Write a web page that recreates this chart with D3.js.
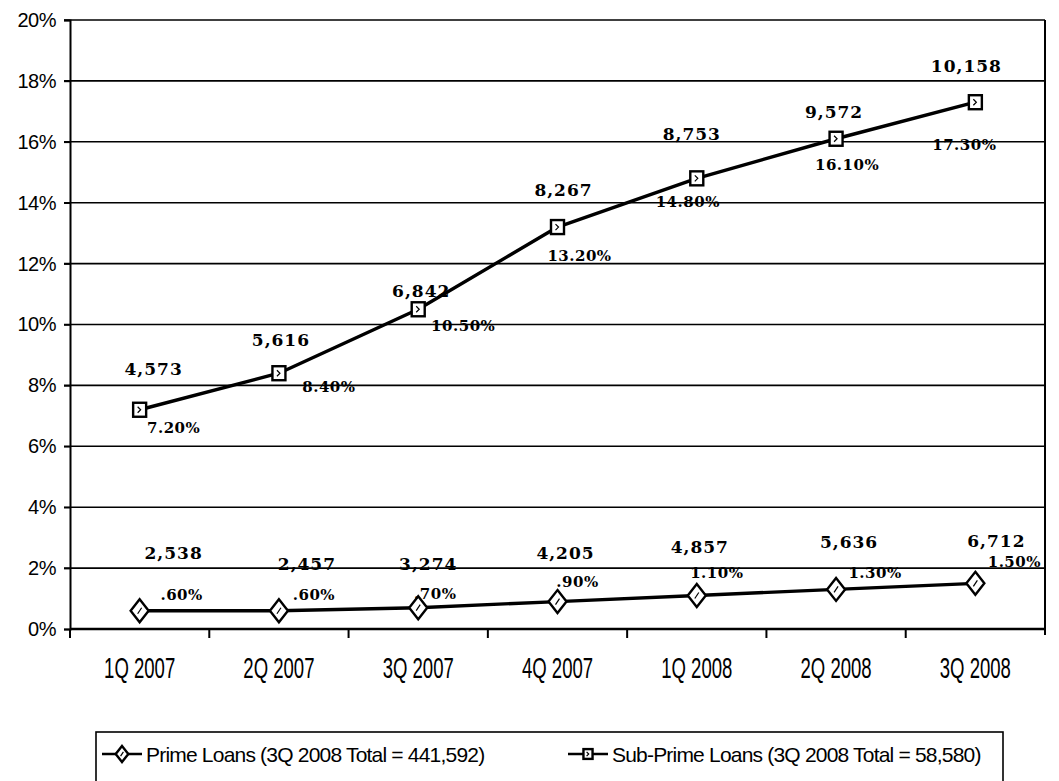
<!DOCTYPE html>
<html>
<head>
<meta charset="utf-8">
<script src="https://cdn.jsdelivr.net/npm/d3@7"></script>
<style>
  body { margin: 0; background: #fff; }
  svg { display: block; }
</style>
</head>
<body>
<div id="chart"></div>
<script>
// Data
const quarters = ['1Q 2007', '2Q 2007', '3Q 2007', '4Q 2007', '1Q 2008', '2Q 2008', '3Q 2008'];
const primeRate = [0.6, 0.6, 0.7, 0.9, 1.1, 1.3, 1.5];
const subprimeRate = [7.2, 8.4, 10.5, 13.2, 14.8, 16.1, 17.3];
const primeCount = [2538, 2457, 3274, 4205, 4857, 5636, 6712];
const subprimeCount = [4573, 5616, 6842, 8267, 8753, 9572, 10158];
const yTicks = [0, 2, 4, 6, 8, 10, 12, 14, 16, 18, 20];
const legendLabels = ['Prime Loans (3Q 2008 Total = 441,592)', 'Sub-Prime Loans (3Q 2008 Total = 58,580)'];

// Label nudges (px from the point), the way they were hand-placed in the original
const subCountNudge = [[14, -41], [2, -33], [3, -18], [6, -37], [-5, -44], [-2, -27], [-9, -36]];
const subPctNudge = [[34, 18], [50, 13], [45, 16], [22, 29], [-9, 23], [11, 26], [-11, 42]];
const primeCountNudge = [[34, -58], [28, -47], [10, -44], [8, -49], [3, -49], [13, -48], [21, -42]];
const primePctNudge = [[42, -16], [35, -16], [17, -14], [20, -20], [20, -23], [39, -17], [39, -22]];

const W = 1059, H = 781;
const plot = { left: 70, right: 1045, top: 20, bottom: 629 };

const svg = d3.select('#chart').append('svg').attr('width', W).attr('height', H);

const x = d3.scaleBand().domain(quarters).range([plot.left, plot.right]);
const y = d3.scaleLinear().domain([0, 20]).range([plot.bottom, plot.top]);
const cx = q => x(q) + x.bandwidth() / 2;

const sans = 'Liberation Sans, Arial, sans-serif';
const serif = 'DejaVu Serif, serif';

// Horizontal gridlines (20% line doubles as top border)
svg.append('g')
  .selectAll('line').data(yTicks.filter(d => d > 0)).join('line')
  .attr('x1', plot.left - 6).attr('x2', plot.right)
  .attr('y1', d => y(d)).attr('y2', d => y(d))
  .attr('stroke', '#000').attr('stroke-width', 1.6);

// Y axis
svg.append('g').attr('transform', `translate(${plot.left},0)`)
  .call(d3.axisLeft(y).tickValues(yTicks).tickSize(6).tickPadding(8).tickFormat(d => d + '%'))
  .call(g => g.select('.domain').attr('stroke', '#000').attr('stroke-width', 2))
  .call(g => g.selectAll('.tick line').attr('stroke', '#000').attr('stroke-width', 1.6))
  .call(g => g.selectAll('.tick text').attr('fill', '#000').attr('font-family', sans)
    .attr('font-size', '20px').attr('letter-spacing', '-0.5px'));

// Right border
svg.append('line')
  .attr('x1', plot.right).attr('x2', plot.right)
  .attr('y1', plot.top).attr('y2', plot.bottom + 6)
  .attr('stroke', '#000').attr('stroke-width', 2);

// X axis: ticks at category boundaries
const xAxis = svg.append('g');
xAxis.append('line')
  .attr('x1', plot.left).attr('x2', plot.right)
  .attr('y1', plot.bottom).attr('y2', plot.bottom)
  .attr('stroke', '#000').attr('stroke-width', 2.5);
xAxis.selectAll('.xtick').data(quarters).join('line').attr('class', 'xtick')
  .attr('x1', d => x(d)).attr('x2', d => x(d))
  .attr('y1', plot.bottom).attr('y2', plot.bottom + 9)
  .attr('stroke', '#000').attr('stroke-width', 2);
xAxis.selectAll('text').data(quarters).join('text')
  .attr('transform', d => `translate(${cx(d)},678) scale(0.64,1)`)
  .attr('text-anchor', 'middle')
  .attr('font-family', sans).attr('font-size', '29px').attr('fill', '#000')
  .text(d => d);

// Series
const series = [
  { key: 'prime', rate: primeRate, count: primeCount, countNudge: primeCountNudge, pctNudge: primePctNudge, shape: 'diamond' },
  { key: 'subprime', rate: subprimeRate, count: subprimeCount, countNudge: subCountNudge, pctNudge: subPctNudge, shape: 'square' },
];

const line = d3.line().x((d, i) => cx(quarters[i])).y(d => y(d));
const pctFmt = v => d3.format('.2f')(v).replace(/^0/, '') + '%';
const countFmt = d3.format(',');

function drawMarker(g, shape, px, py, scale) {
  if (shape === 'diamond') {
    const w = 9 * scale, h = 11.5 * scale;
    g.append('path')
      .attr('d', `M${px},${py - h}L${px + w},${py}L${px},${py + h}L${px - w},${py}Z`)
      .attr('fill', '#fff').attr('stroke', '#000').attr('stroke-width', 2.4);
    g.append('path')
      .attr('d', `M${px - 2 * scale},${py + 3 * scale}L${px + 2 * scale},${py - 3 * scale}`)
      .attr('stroke', '#000').attr('stroke-width', 1.2);
  } else {
    const w = 6.5 * scale, h = 7 * scale;
    g.append('rect')
      .attr('x', px - w).attr('y', py - h).attr('width', 2 * w).attr('height', 2 * h)
      .attr('fill', '#fff').attr('stroke', '#000').attr('stroke-width', 2.4);
    g.append('path')
      .attr('d', `M${px - 2 * scale},${py - 3 * scale}L${px + 1 * scale},${py}L${px - 2 * scale},${py + 3 * scale}`)
      .attr('fill', 'none').attr('stroke', '#000').attr('stroke-width', 1.2);
  }
}

series.forEach(s => {
  const g = svg.append('g').attr('class', `series-${s.key}`);
  g.append('path').datum(s.rate)
    .attr('fill', 'none').attr('stroke', '#000').attr('stroke-width', 3.4)
    .attr('stroke-linejoin', 'round').attr('d', line);

  s.rate.forEach((v, i) => drawMarker(g, s.shape, cx(quarters[i]), y(v), 1));

  // Count labels
  g.selectAll('.count').data(s.count).join('text').attr('class', 'count')
    .attr('x', (d, i) => cx(quarters[i]) + s.countNudge[i][0])
    .attr('y', (d, i) => y(s.rate[i]) + s.countNudge[i][1])
    .attr('dy', '0.36em').attr('text-anchor', 'middle')
    .attr('font-family', serif).attr('font-weight', 'bold').attr('font-size', '17px')
    .attr('letter-spacing', '1px').attr('fill', '#000')
    .text(d => countFmt(d));

  // Percentage labels
  g.selectAll('.pct').data(s.rate).join('text').attr('class', 'pct')
    .attr('x', (d, i) => cx(quarters[i]) + s.pctNudge[i][0])
    .attr('y', (d, i) => y(d) + s.pctNudge[i][1])
    .attr('dy', '0.36em').attr('text-anchor', 'middle')
    .attr('font-family', serif).attr('font-weight', 'bold').attr('font-size', '15px')
    .attr('letter-spacing', '0.5px').attr('fill', '#000')
    .text(d => pctFmt(d));
});

// Legend
const legend = svg.append('g');
legend.append('rect')
  .attr('x', 96).attr('y', 732).attr('width', 907).attr('height', 70)
  .attr('fill', 'none').attr('stroke', '#000').attr('stroke-width', 1.6);

const legendItems = [
  { label: legendLabels[0], shape: 'diamond', x0: 102 },
  { label: legendLabels[1], shape: 'square', x0: 568 },
];
legendItems.forEach(item => {
  const ly = 754;
  legend.append('line')
    .attr('x1', item.x0).attr('x2', item.x0 + 40).attr('y1', ly).attr('y2', ly)
    .attr('stroke', '#000').attr('stroke-width', 2.5);
  drawMarker(legend, item.shape, item.x0 + 20, ly, 0.7);
  legend.append('text')
    .attr('x', item.x0 + 44).attr('y', ly).attr('dy', '0.36em')
    .attr('font-family', sans).attr('font-size', '21px').attr('letter-spacing', '-0.8px')
    .attr('fill', '#000')
    .text(item.label);
});
</script>
</body>
</html>
